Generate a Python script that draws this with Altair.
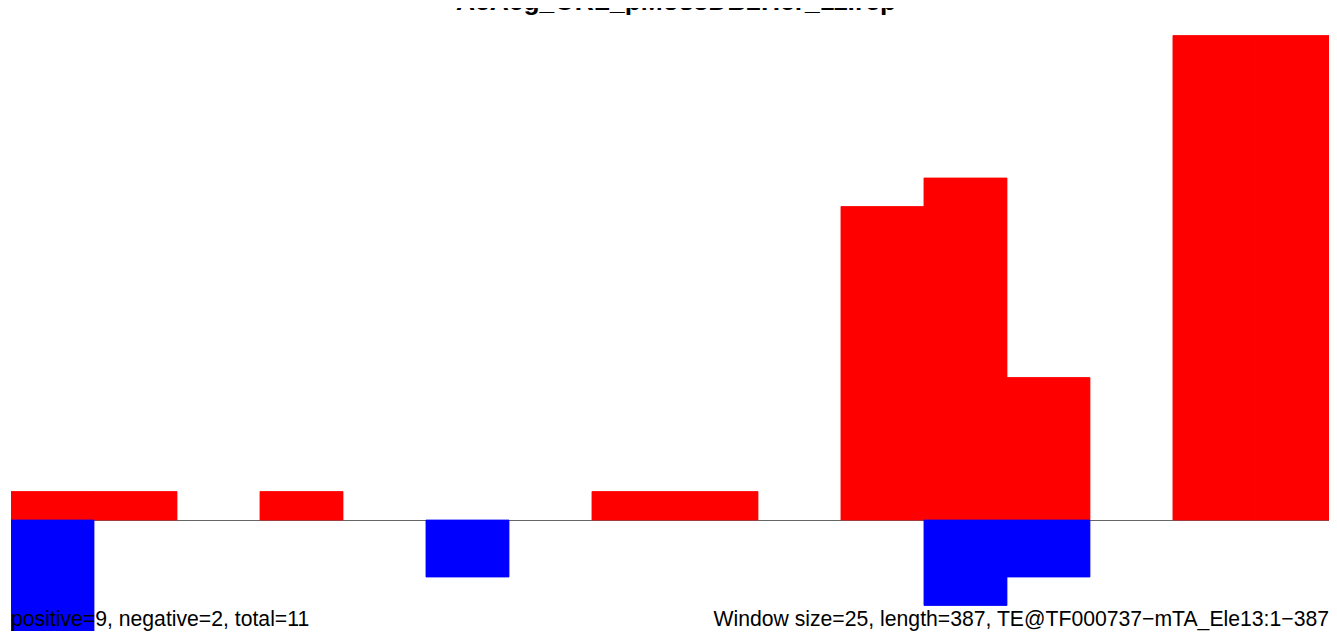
import altair as alt
import pandas as pd

title_text = "AeAeg_ORL_pMos3DB2Her_11.rep"
left_note = "positive=9, negative=2, total=11"
right_note = "Window size=25, length=387, TE@TF000737\u2212mTA_Ele13:1\u2212387"

window = 25
bin_starts = [0, 25, 50, 75, 100, 125, 150, 175, 200, 225, 250, 275, 300, 325, 350, 375]
positive = [1, 1, 0, 1, 0, 0, 0, 1, 1, 0, 11, 12, 5, 0, 17, 17]
negative = [4, 0, 0, 0, 0, 2, 0, 0, 0, 0, 0, 3, 2, 0, 0, 0]

rows = []
for s, p, n in zip(bin_starts, positive, negative):
    if p:
        rows.append({"start": s, "end": s + window, "lo": 0, "hi": p, "kind": "pos"})
    if n:
        rows.append({"start": s, "end": s + window, "lo": -n, "hi": 0, "kind": "neg"})
bars = pd.DataFrame(rows)

W, H = 1318, 623
xs = alt.Scale(domain=[0, 397.0], zero=False, nice=False)
ys = alt.Scale(domain=[-(H - 512) / 28.5, 512 / 28.5], zero=False, nice=False)

zero_line = alt.Chart(pd.DataFrame({"y": [0]})).mark_rule(color="#666666", strokeWidth=1, yOffset=0.5).encode(
    y=alt.Y("y:Q", scale=ys, axis=None),
    x=alt.value(0), x2=alt.value(W),
)

pal = alt.Scale(domain=["pos", "neg"], range=["#FF0000", "#0000FF"])
bar_layer = alt.Chart(bars).mark_rect(clip=True, strokeWidth=0.8).encode(
    x=alt.X("start:Q", scale=xs, axis=None),
    x2="end:Q",
    y=alt.Y("lo:Q", scale=ys, axis=None),
    y2="hi:Q",
    color=alt.Color("kind:N", scale=pal, legend=None),
    stroke=alt.Stroke("kind:N", scale=pal, legend=None),
    order=alt.Order("kind:N", sort="descending"),
)

title_layer = alt.Chart(pd.DataFrame({"t": [title_text]})).mark_text(
    font="Liberation Sans", fontWeight="bold", fontSize=26.4, align="center", baseline="alphabetic", color="black"
).encode(text="t:N", x=alt.value(665), y=alt.value(2))

left_layer = alt.Chart(pd.DataFrame({"t": [left_note]})).mark_text(
    font="Liberation Sans", fontSize=21.2, align="left", baseline="alphabetic", color="black"
).encode(text="t:N", x=alt.value(0), y=alt.value(618))

right_layer = alt.Chart(pd.DataFrame({"t": [right_note]})).mark_text(
    font="Liberation Sans", fontSize=21.2, align="right", baseline="alphabetic", color="black"
).encode(text="t:N", x=alt.value(W), y=alt.value(618))

chart = alt.layer(zero_line, bar_layer, title_layer, left_layer, right_layer).properties(
    width=W, height=H,
    autosize=alt.AutoSizeParams(type="none"),
    padding={"left": 3, "top": 0, "right": 0, "bottom": 0},
).configure(background="white", view=alt.ViewConfig(strokeWidth=0, stroke=None))

chart.save("out.html", embed_options={"renderer": "svg", "actions": False})
